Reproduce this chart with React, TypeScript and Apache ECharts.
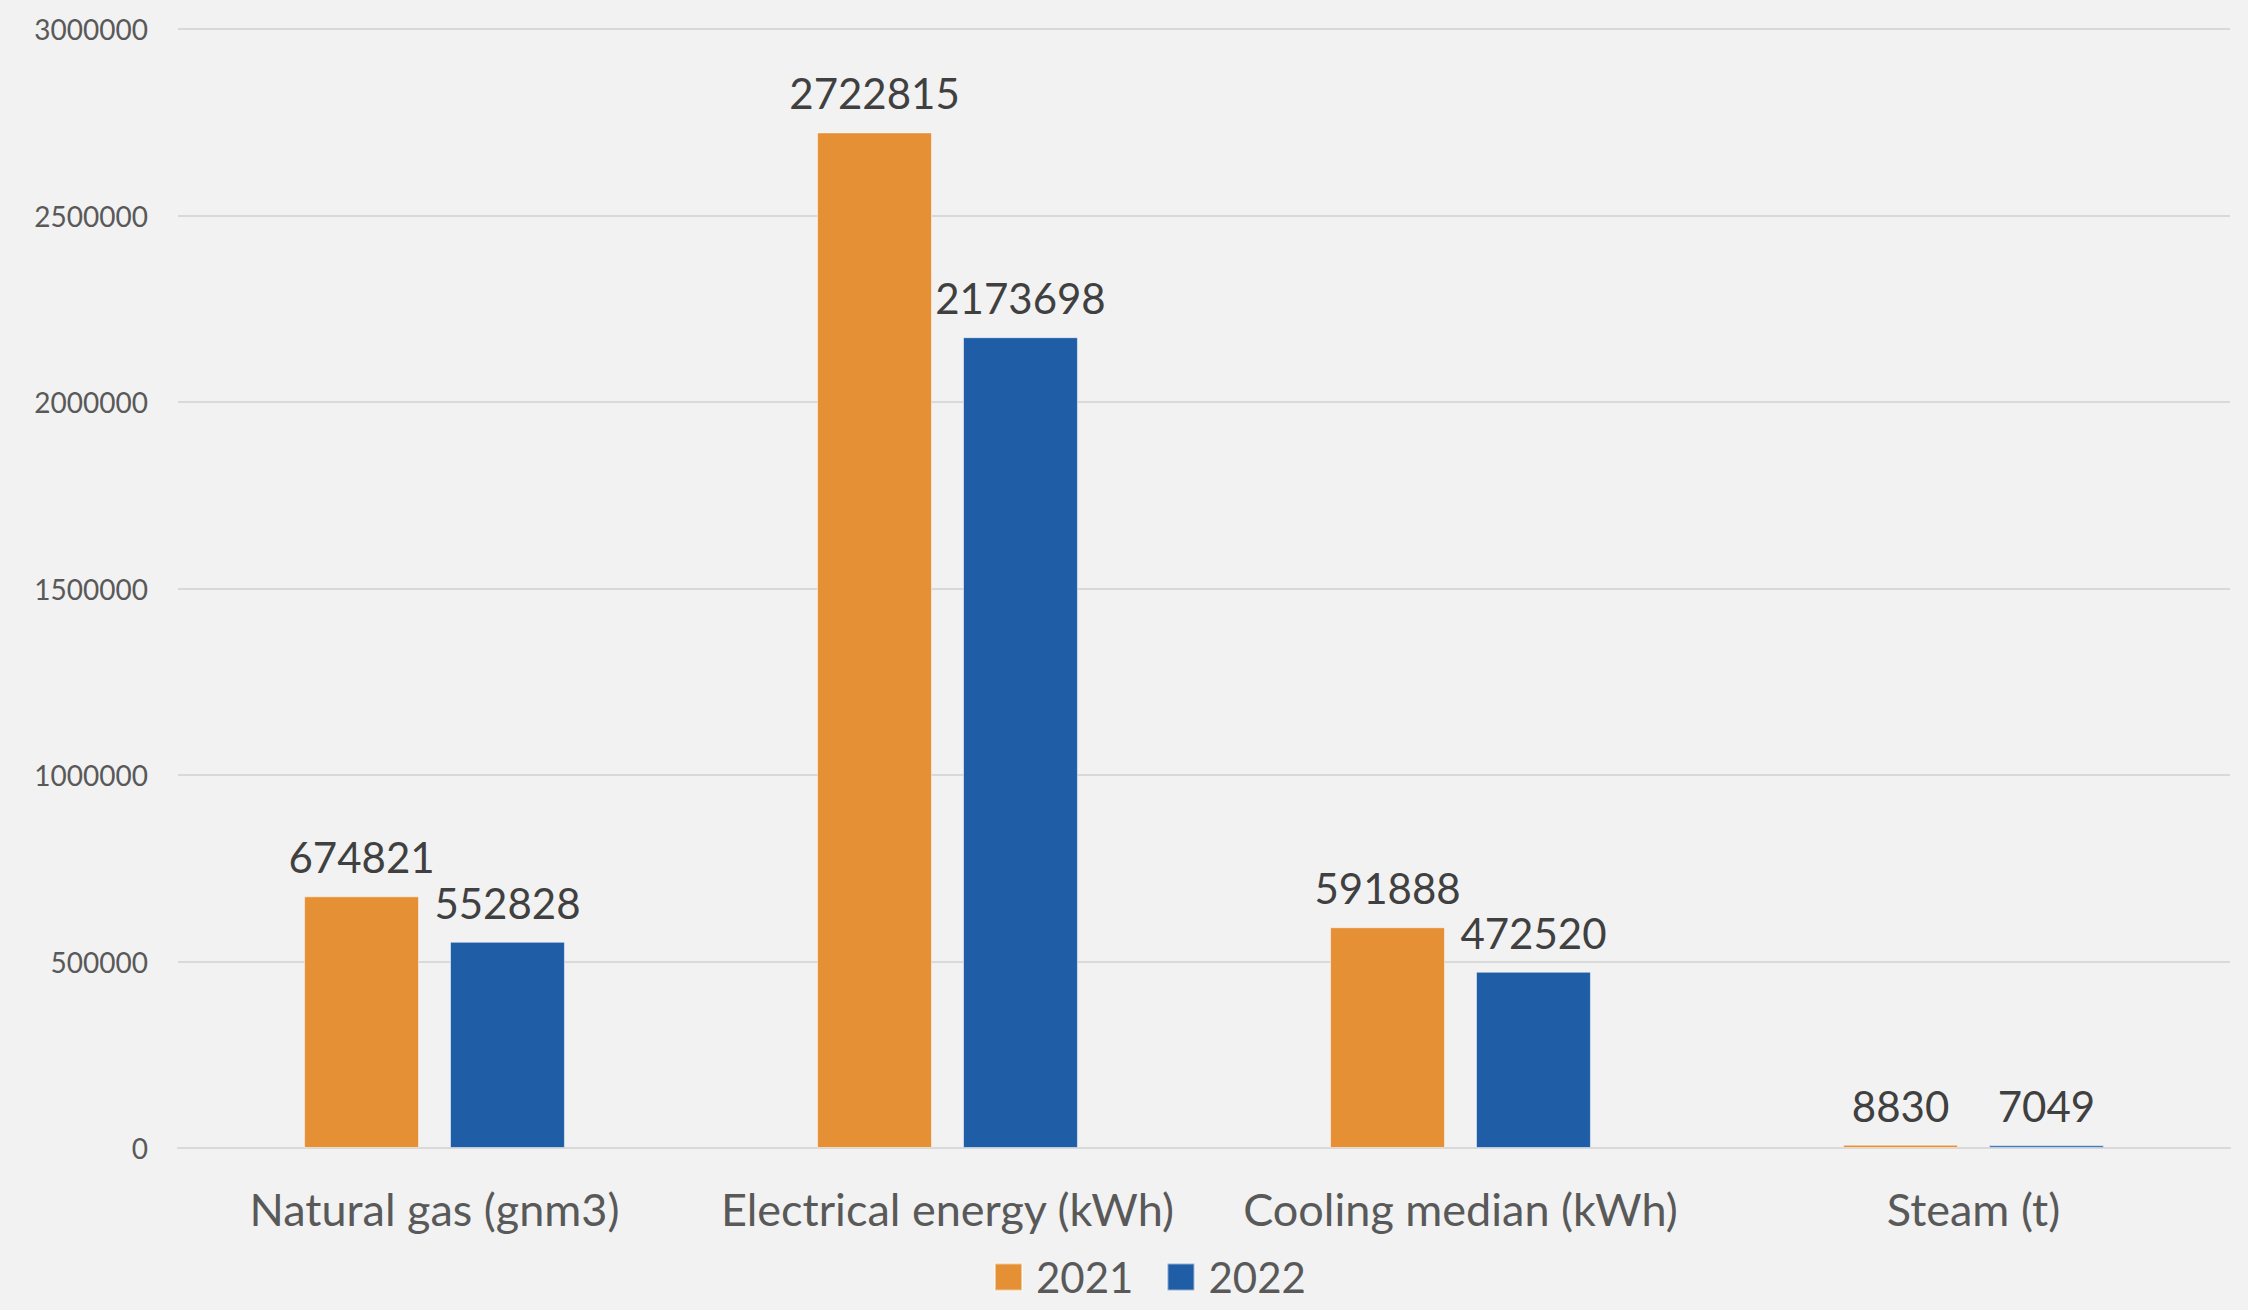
import React, { useEffect, useRef } from "react";
import * as echarts from "echarts";

const categories = ["Natural gas (gnm3)", "Electrical energy (kWh)", "Cooling median (kWh)", "Steam (t)"];
const values2021 = [674821, 2722815, 591888, 8830];
const values2022 = [552828, 2173698, 472520, 7049];
const yTicks = { min: 0, max: 3000000, interval: 500000 };

export default function App() {
  const ref = useRef<HTMLDivElement>(null);
  useEffect(() => {
    document.body.style.margin = "0";
    const chart = echarts.init(ref.current!, null, { renderer: "svg" });
    const font = "Lato, 'Open Sans', sans-serif";
    const label = {
      show: true,
      position: "top",
      distance: 18,
      fontSize: 42,
      fontFamily: font,
      color: "#404040",
    };
    chart.setOption({
      animation: false,
      backgroundColor: "#F2F2F2",
      textStyle: { fontFamily: font },
      grid: { left: 178, right: 18, top: 29, bottom: 162, containLabel: false },
      legend: {
        top: 1256,
        left: 994,
        padding: 0,
        itemWidth: 27,
        itemHeight: 27,
        itemGap: 33,
        icon: "rect",
        textStyle: { fontSize: 42, color: "#595959", fontFamily: font, padding: [0, 0, 0, 9] },
        data: ["2021", "2022"],
      },
      xAxis: {
        type: "category",
        data: categories,
        axisLine: { show: true, lineStyle: { color: "#D9D9D9", width: 2 } },
        axisTick: { show: false },
        axisLabel: { fontSize: 45, color: "#595959", fontFamily: font, margin: 38, interval: 0 },
      },
      yAxis: {
        type: "value",
        min: yTicks.min,
        max: yTicks.max,
        interval: yTicks.interval,
        axisLine: { show: false },
        axisTick: { show: false },
        splitLine: { lineStyle: { color: "#D9D9D9", width: 2 } },
        axisLabel: {
          fontSize: 28,
          color: "#595959",
          fontFamily: font,
          margin: 30,
          formatter: (v: number) => String(v),
        },
      },
      series: [
        {
          name: "2021",
          type: "bar",
          data: values2021,
          barWidth: "22.4%",
          barGap: "27%",
          itemStyle: { color: "#E69035", borderColor: "rgba(255,255,255,0.5)", borderWidth: 1 },
          label,
        },
        {
          name: "2022",
          type: "bar",
          data: values2022,
          barWidth: "22.4%",
          barGap: "27%",
          itemStyle: { color: "#1F5DA6", borderColor: "rgba(255,255,255,0.5)", borderWidth: 1 },
          label,
        },
      ],
    });
    return () => chart.dispose();
  }, []);
  return <div ref={ref} style={{ width: 2248, height: 1310 }} />;
}
